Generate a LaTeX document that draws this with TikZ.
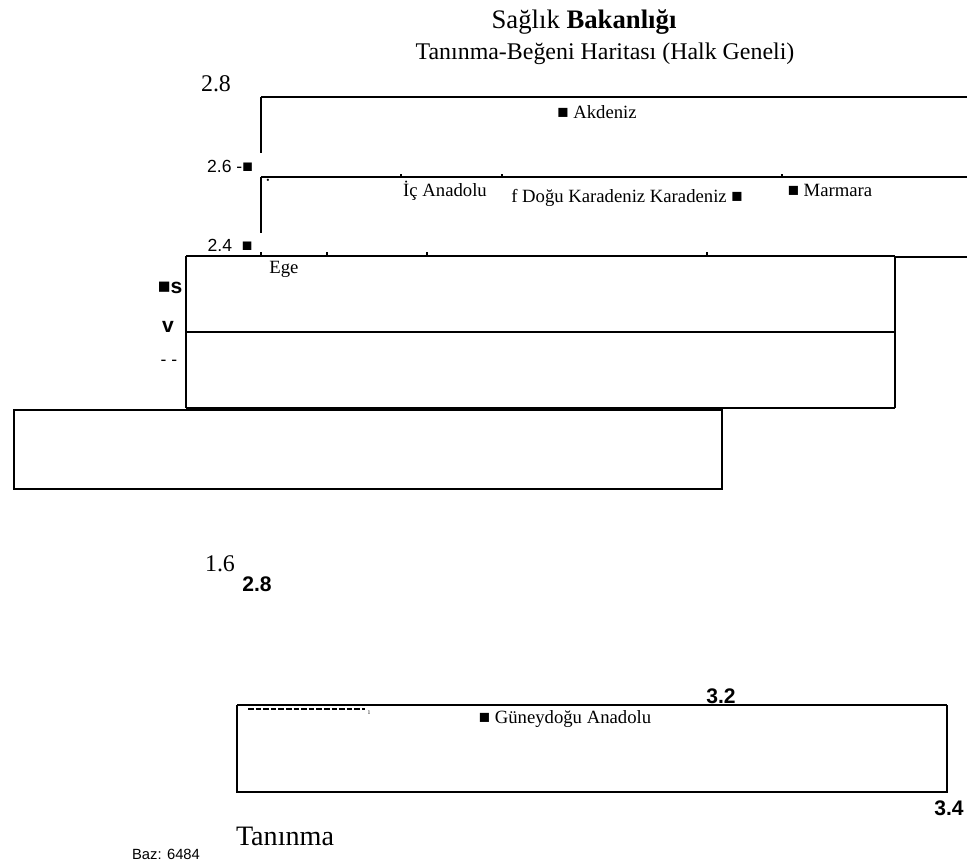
\documentclass[tikz,border=0pt]{standalone}
\usepackage{fontspec}
\setmainfont{Liberation Serif}
\setsansfont{Liberation Sans}
\usetikzlibrary{math}

\tikzset{
 reg/.style={font=\fontsize{13.3}{15}\selectfont, inner sep=0pt},
 axl/.style={font=\sffamily\fontsize{12.5}{14}\selectfont, inner sep=0pt},
 axb/.style={font=\sffamily\bfseries\fontsize{15}{17}\selectfont, inner sep=0pt},
 big/.style={font=\fontsize{17}{19}\selectfont, inner sep=0pt},
}

\begin{document}
\begin{tikzpicture}[x=0.025cm,y=-0.025cm]
\tikzmath{
\xl=261;
\xr=967;
}
\useasboundingbox (0,0) rectangle (967,867);

\node[big, font=\fontsize{19}{21}\selectfont] (ttl) at (584,22) {Sağlık \textbf{Bakanlığı}};
\node[big] (sub) at (605,54) {Tanınma-Beğeni Haritası (Halk Geneli)};

% upper frame
\draw[line width =1.4pt] (\xl,97) -- (\xr,97);
\draw[line width =1.4pt] (\xl,97) -- (\xl,153);
\draw[line width =0.8pt] (\xl,177) -- (\xr,177);
\draw[line width =1.4pt] (\xl,177) -- (\xl,233);
\draw[line width =0.8pt] (186,256) -- (895,256);
\draw[line width =2pt] (895,257) -- (\xr,257);

\foreach \t in {401,502,782}{
 \draw[line width =0.8pt] (\t,174) -- (\t,177);
}
\foreach \t in {261,327,427,707}{
 \draw[line width =0.8pt] (\t,252) -- (\t,256);
}

% Ege box
\draw[line width =1.4pt] (186,256) -- (186,408);
\draw[line width =2pt] (895,257) -- (895,408);
\draw[line width =1.4pt] (186,332) -- (895,332);
\draw[line width =2pt] (186,408) -- (895,408);

% lower boxes
\draw[line width =1.4pt] (14,410) rectangle (722,489);
\draw[line width =0.8pt] (237,705) -- (947,705);
\draw[line width =2pt] (237,705) -- (237,792) -- (947,792) -- (947,705);
\draw[line width =1pt, dash pattern=on 4pt off 1.4pt] (248,709) -- (365,709);

% axis texts
\node[big] (y28) at (216,84) {2.8};
\node[axl] (y26) at (230,166) {2.6 -■};
\node[axl] (y24) at (230,245) {2.4 \ ■};
\node[axb] (ys) at (170,288) {■s};
\node[axb] (yv) at (168,327) {v};
\node[axl] (yd) at (169,363) {- -};
\node[big] (y16) at (220,564) {1.6};
\node[axb] (x28) at (257,584) {2.8};
\node[axb] (x32) at (721,696) {3.2};
\node[axb] (x34) at (949,808) {3.4};
\node[font=\fontsize{4}{5}\selectfont, inner sep=0pt] (one) at (369,713) {1};

% regions
\node[reg] (akd) at (597,112) {■ Akdeniz};
\node[reg] (dot) at (268,183) {·};
\node[reg] (ica) at (445,191) {İç Anadolu};
\node[reg] (dka) at (627,198) {f Doğu Karadeniz Karadeniz ■};
\node[reg] (mar) at (830,190) {■ Marmara};
\node[reg] (ege) at (284,269) {Ege};
\node[reg] (gda) at (565,719) {■ Güneydoğu Anadolu};

\node[font=\fontsize{20}{23}\selectfont, inner sep=0pt] (tan) at (285,836) {Tanınma};
\node[font=\sffamily\fontsize{10.5}{12}\selectfont, inner sep=0pt] (baz) at (166,854) {Baz: 6484};
\end{tikzpicture}
\end{document}
